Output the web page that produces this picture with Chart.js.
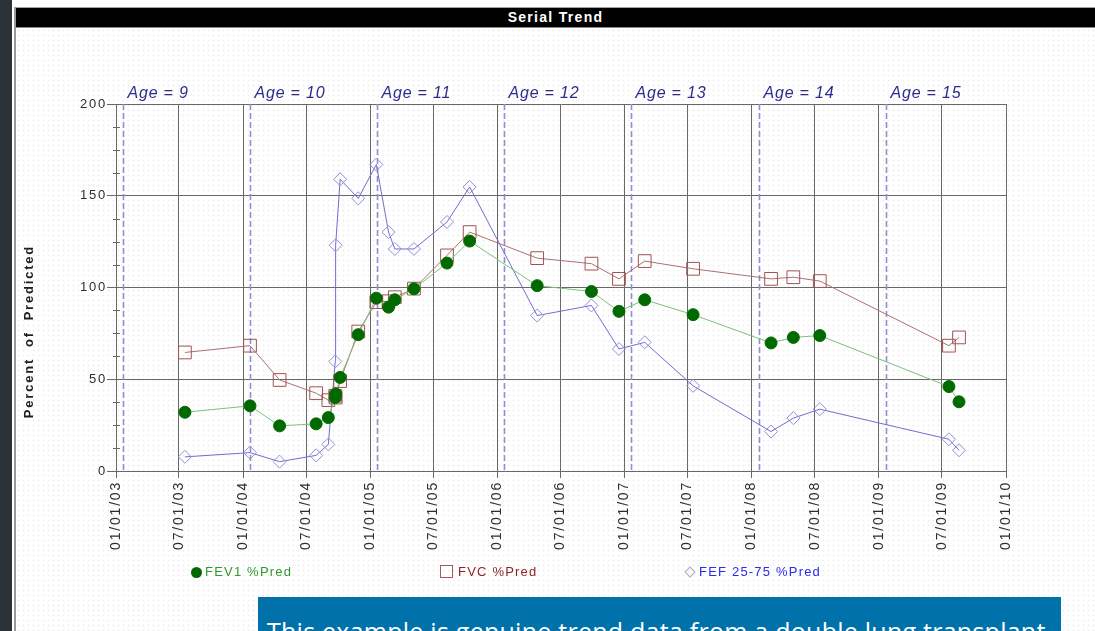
<!DOCTYPE html>
<html>
<head>
<meta charset="utf-8">
<title>Serial Trend</title>
<script src="https://cdn.jsdelivr.net/npm/chart.js@4.4.1/dist/chart.umd.min.js"></script>
<style>
  html, body { margin: 0; padding: 0; }
  body {
    width: 1095px; height: 631px; overflow: hidden; position: relative;
    background: #fff; font-family: 'Liberation Sans', Arial, sans-serif;
  }
  .side { position: absolute; left: 0; top: 0; width: 12px; height: 631px; background: #2c3137; }
  .panel {
    position: absolute; left: 14px; top: 7px; right: 0; bottom: 0;
    border-left: 2px solid #9a9a9a; border-top: 1px solid #a0a0a0;
    background-image: radial-gradient(circle, #ececec 0.8px, transparent 1.1px);
    background-size: 5px 5px;
  }
  .titlebar {
    position: absolute; left: 16px; top: 8px; right: 0; height: 19px;
    background: #000; color: #fff; text-align: center; border-bottom: 1px solid #8a8a8a;
    font: bold 14px 'Liberation Sans', Arial, sans-serif; letter-spacing: 1.3px; line-height: 19px;
  }
  #wrap { position: absolute; left: 0; top: 0; width: 1095px; height: 631px; }
  .legend {
    position: absolute; top: 564px; height: 16px; line-height: 16px;
    font: 13px 'Liberation Sans', Arial, sans-serif; letter-spacing: 1.2px; white-space: nowrap;
  }
  .mk { position: absolute; box-sizing: border-box; }
  .note {
    position: absolute; left: 258px; top: 597px; width: 803px; height: 70px;
    background: #0072a9; color: #fff; box-sizing: border-box;
    padding: 17px 0 0 9px; white-space: nowrap; overflow: hidden;
    font: 25px 'Open Sans', sans-serif; letter-spacing: 0.25px; line-height: 34px;
  }
</style>
</head>
<body>
<div class="side"></div>
<div class="panel"></div>
<div class="titlebar">Serial Trend</div>
<div id="wrap"><canvas id="trend"></canvas></div>

<div class="mk" style="left:191px;top:567px;width:11px;height:11px;border-radius:50%;background:#006a00;"></div>
<div class="legend" style="left:205px;color:#2f9a2f;">FEV1 %Pred</div>

<div class="mk" style="left:440px;top:565px;width:13px;height:13px;border:1px solid #a05a5a;"></div>
<div class="legend" style="left:458px;color:#8e2424;">FVC %Pred</div>

<div class="mk" style="left:686px;top:568px;width:8px;height:8px;border:1px solid #a8a8c0;transform:rotate(45deg);"></div>
<div class="legend" style="left:699px;color:#2a2aee;">FEF 25-75 %Pred</div>

<div class="note">This example is genuine trend data from a double lung transplant</div>

<script>
// test visits
const visitDates = [
  '2003-07-18', '2004-01-21', '2004-04-15', '2004-07-29', '2004-09-02',
  '2004-09-22', '2004-09-23', '2004-10-06', '2004-11-27', '2005-01-18',
  '2005-02-22', '2005-03-12', '2005-05-06', '2005-08-09', '2005-10-13',
  '2006-04-25', '2006-09-28', '2006-12-16', '2007-02-28', '2007-07-17',
  '2008-02-26', '2008-04-30', '2008-07-15', '2009-07-21', '2009-08-19'
];
const fev1Pred = [
  32, 35.5, 24.6, 25.7, 29.1,
  40, 42, 51, 74.3, 94.2,
  89.3, 93.3, 99.3, 113.3, 125.3,
  101, 97.8, 87, 93.3, 85.2,
  69.8, 72.8, 73.8, 46, 37.7
];
const fvcPred = [
  64.6, 68.3, 49.6, 42.4, 38.6,
  41, 40, 49, 76, 92,
  92.5, 94.7, 99.4, 117.5, 130.2,
  116, 113, 104.7, 114.4, 110.2,
  104.7, 105.6, 103.5, 68.3, 72.8
];
const fef2575Pred = [
  7.7, 10, 5.1, 8.5, 14.5,
  59.7, 123, 159, 148.6, 167,
  130.2, 121, 121, 135.7, 154.8,
  84.7, 90.2, 66.5, 70.1, 46.4,
  21.5, 28.8, 33.7, 17.3, 11.3
];

const xTickLabels = [
  '01/01/03', '07/01/03', '01/01/04', '07/01/04', '01/01/05', '07/01/05', '01/01/06', '07/01/06',
  '01/01/07', '07/01/07', '01/01/08', '07/01/08', '01/01/09', '07/01/09', '01/01/10'
];
const yTickLabels = [0, 50, 100, 150, 200];
const yMinorPerMajor = 4;

const birthdays = ['2003-01-21', '2004-01-21', '2005-01-21', '2006-01-21', '2007-01-21', '2008-01-21', '2009-01-21'];
const ageLabels = ['Age = 9', 'Age = 10', 'Age = 11', 'Age = 12', 'Age = 13', 'Age = 14', 'Age = 15'];
const yAxisTitle = 'Percent  of  Predicted';

const isoTime = s => { const [y, m, d] = s.split('-').map(Number); return Date.UTC(y, m - 1, d); };
const tickTime = s => { const [m, d, y] = s.split('/').map(Number); return Date.UTC(2000 + y, m - 1, d); };
const xTickTimes = xTickLabels.map(tickTime);

const points = vals => visitDates.map((d, i) => ({ x: isoTime(d), y: vals[i] }));

const GRID = '#686868';

const decorations = {
  id: 'decorations',
  beforeDraw(chart) {
    chart.ctx.letterSpacing = '1.8px';
  },
  beforeDatasetsDraw(chart) {
    const { ctx, chartArea, scales: { x, y } } = chart;
    ctx.save();
    // minor ticks on the value axis
    ctx.strokeStyle = GRID;
    ctx.lineWidth = 1;
    y.ticks.forEach(t => {
      if (t.value % 50 === 0) return;
      const py = Math.round(y.getPixelForValue(t.value)) + 0.5;
      ctx.beginPath();
      ctx.moveTo(chartArea.left - 3, py);
      ctx.lineTo(chartArea.left + 4, py);
      ctx.stroke();
    });
    // birthday lines and age labels
    ctx.font = 'italic 16px "Liberation Sans", Arial, sans-serif';
    ctx.letterSpacing = '0.8px';
    ctx.fillStyle = '#2b2b8c';
    ctx.textBaseline = 'alphabetic';
    ctx.textAlign = 'left';
    birthdays.forEach((d, i) => {
      const px = Math.round(x.getPixelForValue(isoTime(d))) + 0.5;
      ctx.strokeStyle = '#8f8fd2';
      ctx.lineWidth = 1.6;
      ctx.setLineDash([6, 3]);
      ctx.beginPath();
      ctx.moveTo(px, chartArea.top);
      ctx.lineTo(px, chartArea.bottom);
      ctx.stroke();
      ctx.setLineDash([]);
      ctx.fillText(ageLabels[i], px + 4, chartArea.top - 6);
    });
    // value axis title
    ctx.font = 'bold 13px "Liberation Sans", Arial, sans-serif';
    ctx.letterSpacing = '1.8px';
    ctx.fillStyle = '#1e1e1e';
    ctx.textAlign = 'center';
    ctx.textBaseline = 'middle';
    ctx.translate(29, y.getPixelForValue(76));
    ctx.rotate(-Math.PI / 2);
    ctx.fillText(yAxisTitle, 0, 0);
    ctx.restore();
  },
  afterDraw(chart) {
    chart.ctx.letterSpacing = '0px';
  }
};

new Chart(document.getElementById('trend'), {
  type: 'line',
  data: {
    datasets: [
      {
        label: 'FEV1 %Pred',
        data: points(fev1Pred),
        borderColor: '#79c279',
        borderWidth: 1,
        pointStyle: 'circle',
        pointRadius: 6,
        pointBackgroundColor: '#006a00',
        pointBorderColor: '#006a00',
        pointBorderWidth: 1,
        clip: false,
      },
      {
        label: 'FVC %Pred',
        data: points(fvcPred),
        borderColor: '#ad6f6f',
        borderWidth: 1,
        pointStyle: 'rect',
        pointRadius: 9,
        pointBackgroundColor: 'transparent',
        pointBorderColor: '#a25353',
        pointBorderWidth: 1,
        clip: false,
      },
      {
        label: 'FEF 25-75 %Pred',
        data: points(fef2575Pred),
        borderColor: '#6d6dd2',
        borderWidth: 1,
        pointStyle: 'rectRot',
        pointRadius: 6.5,
        pointBackgroundColor: 'transparent',
        pointBorderColor: '#9090d4',
        pointBorderWidth: 1,
        clip: false,
      },
    ],
  },
  options: {
    responsive: true,
    maintainAspectRatio: false,
    animation: false,
    layout: { padding: { top: 104, left: 0, right: 89, bottom: 0 } },
    elements: { line: { tension: 0 } },
    plugins: {
      legend: { display: false },
      tooltip: { enabled: false },
    },
    scales: {
      x: {
        type: 'linear',
        min: xTickTimes[0],
        max: xTickTimes[xTickTimes.length - 1],
        afterBuildTicks: scale => { scale.ticks = xTickTimes.map(v => ({ value: v })); },
        afterFit: scale => { scale.height = 160; },
        border: { display: true, color: GRID, width: 1 },
        grid: { color: GRID, lineWidth: 1, tickLength: 7, tickColor: GRID },
        ticks: {
          autoSkip: false,
          minRotation: 90,
          maxRotation: 90,
          padding: 3,
          color: '#2e2e2e',
          font: { family: "'Liberation Sans', Arial, sans-serif", size: 14 },
          callback: v => xTickLabels[xTickTimes.indexOf(v)],
        },
      },
      y: {
        min: yTickLabels[0],
        max: yTickLabels[yTickLabels.length - 1],
        afterBuildTicks: scale => {
          const ticks = [];
          yTickLabels.forEach((v, i) => {
            ticks.push({ value: v });
            if (i < yTickLabels.length - 1) {
              const step = (yTickLabels[i + 1] - v) / yMinorPerMajor;
              for (let k = 1; k < yMinorPerMajor; k++) ticks.push({ value: v + k * step });
            }
          });
          scale.ticks = ticks;
        },
        afterFit: scale => { scale.width = 116; },
        border: { display: true, color: GRID, width: 1 },
        grid: {
          color: c => (c.tick && c.tick.value % 50 === 0 ? GRID : 'transparent'),
          tickColor: c => (c.tick && c.tick.value % 50 === 0 ? GRID : 'transparent'),
          lineWidth: 1,
          tickLength: 9,
        },
        ticks: {
          autoSkip: false,
          padding: 0,
          color: '#2e2e2e',
          font: { family: "'Liberation Sans', Arial, sans-serif", size: 13 },
          callback: v => (yTickLabels.includes(v) ? String(v) : ''),
        },
      },
    },
  },
  plugins: [decorations],
});
</script>
</body>
</html>
